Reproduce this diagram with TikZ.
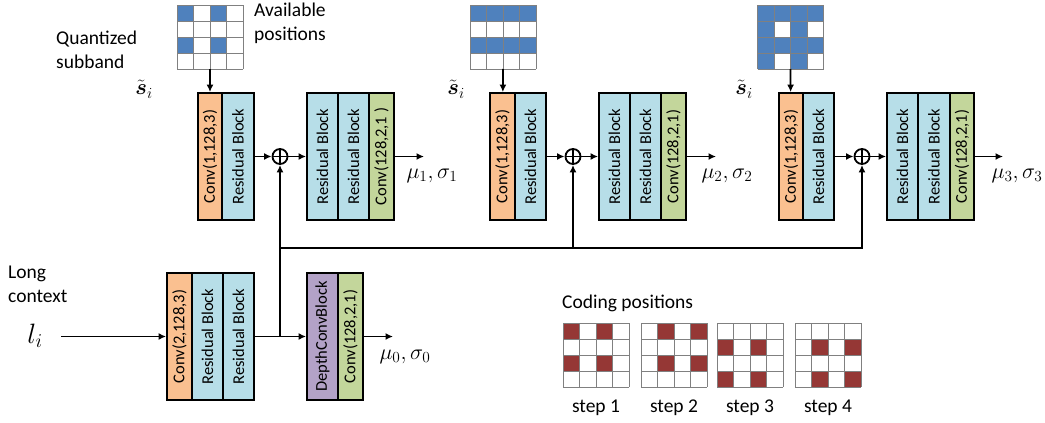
\RequirePackage{fix-cm}
\documentclass[tikz,border=0pt]{standalone}
\usepackage{amsmath}
\usepackage[no-math]{fontspec}
\setmainfont{Carlito}
\usepackage{graphicx}
\usetikzlibrary{arrows.meta}
\definecolor{cOr}{HTML}{FAC090}
\definecolor{cBl}{HTML}{B7DEE8}
\definecolor{cGr}{HTML}{C3D69B}
\definecolor{cPu}{HTML}{B3A2C7}
\definecolor{cCell}{HTML}{4F81BD}
\definecolor{cRed}{HTML}{953735}
\definecolor{cGl}{HTML}{808080}
\tikzset{
  blk/.style={draw=black, line width=1.8pt, minimum height=127pt, inner sep=0pt,
    font=\fontsize{16.5}{18}\selectfont},
  plus/.style={circle, draw=black, line width=1.8pt, minimum size=15pt, inner sep=0pt,
    path picture={\draw[line width=1.3pt] (path picture bounding box.north) -- (path picture bounding box.south)
      (path picture bounding box.west) -- (path picture bounding box.east);}},
  arr/.style={line width=1.8pt, -{Latex[length=7.5pt,width=7pt]}},
  ln/.style={line width=1.8pt},
  lbl/.style={inner sep=0pt, font=\fontsize{19.5}{24}\selectfont},
  mth/.style={inner sep=0pt, font=\fontsize{22}{26}\selectfont},
  gl/.style={draw=cGl, line width=0.8pt}
}
\newcommand{\mygrid}[4]{%
  \foreach \c/\r in {#4} { \fill[#3] ({#1+\c*16.5},{#2+\r*16}) rectangle ++(16.5,16); }
  \foreach \i in {0,...,4} {
    \draw[gl] ({#1+\i*16.5},#2) -- ++(0,64);
    \draw[gl] (#1,{#2+\i*16}) -- ++(66,0);
  }
}
\begin{document}
\begin{tikzpicture}[x=1pt,y=-1pt]
\useasboundingbox (0,0) rectangle (1045,423);

% grids (top)
\mygrid{177}{5}{cCell}{0/0,2/0,0/2,2/2}
\mygrid{470}{5}{cCell}{0/0,1/0,2/0,3/0,0/2,1/2,2/2,3/2}
\mygrid{757.5}{5}{cCell}{0/0,1/0,2/0,3/0,0/2,1/2,2/2,3/2,0/1,2/1,0/3,2/3}
\coordinate (g1) at (210,69);
\coordinate (g2) at (503,69);
\coordinate (g3) at (790.5,69);

% coding grids
\mygrid{563}{323}{cRed}{0/0,2/0,0/2,2/2}
\mygrid{641}{323}{cRed}{1/0,3/0,1/2,3/2}
\mygrid{717}{323}{cRed}{0/1,2/1,0/3,2/3}
\mygrid{795}{323}{cRed}{1/1,3/1,1/3,3/3}

% row 1
\node[blk, fill=cOr, minimum width=24pt] (a1) at (210,156.5) {\rotatebox{90}{Conv(1,128,3)}};
\node[blk, fill=cBl, minimum width=32pt] (a2) at (238,156.5) {\rotatebox{90}{Residual Block}};
\node[plus] (p1) at (280,156.5) {};
\node[blk, fill=cBl, minimum width=31pt] (b1) at (322.5,156.5) {\rotatebox{90}{Residual Block}};
\node[blk, fill=cBl, minimum width=31pt] (b2) at (353.5,156.5) {\rotatebox{90}{Residual Block}};
\node[blk, fill=cGr, minimum width=25pt] (b3) at (381.5,156.5) {\rotatebox{90}{Conv(128,2,1 )}};
\coordinate (o1) at (424,156.5);

% row 2
\node[blk, fill=cOr, minimum width=25pt] (a3) at (502.5,156.5) {\rotatebox{90}{Conv(1,128,3)}};
\node[blk, fill=cBl, minimum width=31pt] (a4) at (530.5,156.5) {\rotatebox{90}{Residual Block}};
\node[plus] (p2) at (573,156.5) {};
\node[blk, fill=cBl, minimum width=31pt] (b4) at (614.5,156.5) {\rotatebox{90}{Residual Block}};
\node[blk, fill=cBl, minimum width=31pt] (b5) at (645.5,156.5) {\rotatebox{90}{Residual Block}};
\node[blk, fill=cGr, minimum width=25pt] (b6) at (673.5,156.5) {\rotatebox{90}{Conv(128,2,1)}};
\coordinate (o2) at (716,156.5);

% row 3
\node[blk, fill=cOr, minimum width=24pt] (a5) at (791,156.5) {\rotatebox{90}{Conv(1,128,3)}};
\node[blk, fill=cBl, minimum width=31pt] (a6) at (818.5,156.5) {\rotatebox{90}{Residual Block}};
\node[plus] (p3) at (862,156.5) {};
\node[blk, fill=cBl, minimum width=31pt] (b7) at (902.5,156.5) {\rotatebox{90}{Residual Block}};
\node[blk, fill=cBl, minimum width=32pt] (b8) at (934,156.5) {\rotatebox{90}{Residual Block}};
\node[blk, fill=cGr, minimum width=24pt] (b9) at (962,156.5) {\rotatebox{90}{Conv(128,2,1)}};
\coordinate (o3) at (1003,156.5);

% bottom row
\node[blk, fill=cOr, minimum width=25pt] (c1) at (179.5,336.5) {\rotatebox{90}{Conv(2,128,3)}};
\node[blk, fill=cBl, minimum width=31pt] (c2) at (207.5,336.5) {\rotatebox{90}{Residual Block}};
\node[blk, fill=cBl, minimum width=31pt] (c3) at (238.5,336.5) {\rotatebox{90}{Residual Block}};
\node[blk, fill=cPu, minimum width=31pt] (d1) at (322.5,336.5) {\rotatebox{90}{DepthConvBlock}};
\node[blk, fill=cGr, minimum width=25pt] (d2) at (350.5,336.5) {\rotatebox{90}{Conv(128,2,1)}};
\coordinate (lin) at (61,336.5);
\coordinate (j) at (280,336.5);
\coordinate (o0) at (393,336.5);
\coordinate (h1) at (280,248);
\coordinate (h2) at (573,248);

% connectors
\draw[arr] (g1) -- (a1);
\draw[arr] (g2) -- (a3);
\draw[arr] (g3) -- (a5);
\draw[arr] (a2) -- (p1);
\draw[arr] (p1) -- (b1);
\draw[arr] (b3.east) -- (o1);
\draw[arr] (a4) -- (p2);
\draw[arr] (p2) -- (b4);
\draw[arr] (b6.east) -- (o2);
\draw[arr] (a6) -- (p3);
\draw[arr] (p3) -- (b7);
\draw[arr] (b9.east) -- (o3);
\draw[arr] (lin) -- (c1);
\draw[ln] (c3.east) -- (j);
\draw[arr] (j) -- (d1);
\draw[arr] (d2.east) -- (o0);
\draw[arr] (j) -- (p1);
\draw[arr] (h1) -| (p3);
\draw[arr] (h2) -- (p2);

% labels
\node[lbl, anchor=north west, align=left] (qs) at (56,31) {Quantized\\subband};
\node[lbl, anchor=north west, align=left] (ap) at (254,3) {Available\\positions};
\node[lbl, anchor=north west, align=left] (lc) at (8,266) {Long\\context};
\node[lbl, anchor=north west] (cp) at (562,295) {Coding positions};
\node[lbl] (st1) at (596,408) {step 1};
\node[lbl] (st2) at (674,408) {step 2};
\node[lbl] (st3) at (750,408) {step 3};
\node[lbl] (st4) at (828,408) {step 4};

\node[mth] (s1) at (144,89) {$\tilde{\boldsymbol{s}}_i$};
\node[mth] (s2) at (456,89) {$\tilde{\boldsymbol{s}}_i$};
\node[mth] (s3) at (744,89) {$\tilde{\boldsymbol{s}}_i$};
\node[mth] (m1) at (432,176) {$\mu_1,\sigma_1$};
\node[mth] (m2) at (727,176) {$\mu_2,\sigma_2$};
\node[mth] (m3) at (1017,176) {$\mu_3,\sigma_3$};
\node[mth] (m0) at (405,357) {$\mu_0,\sigma_0$};
\node[inner sep=0pt, font=\fontsize{28}{32}\selectfont] (li) at (35,336) {$l_i$};
\end{tikzpicture}
\end{document}
